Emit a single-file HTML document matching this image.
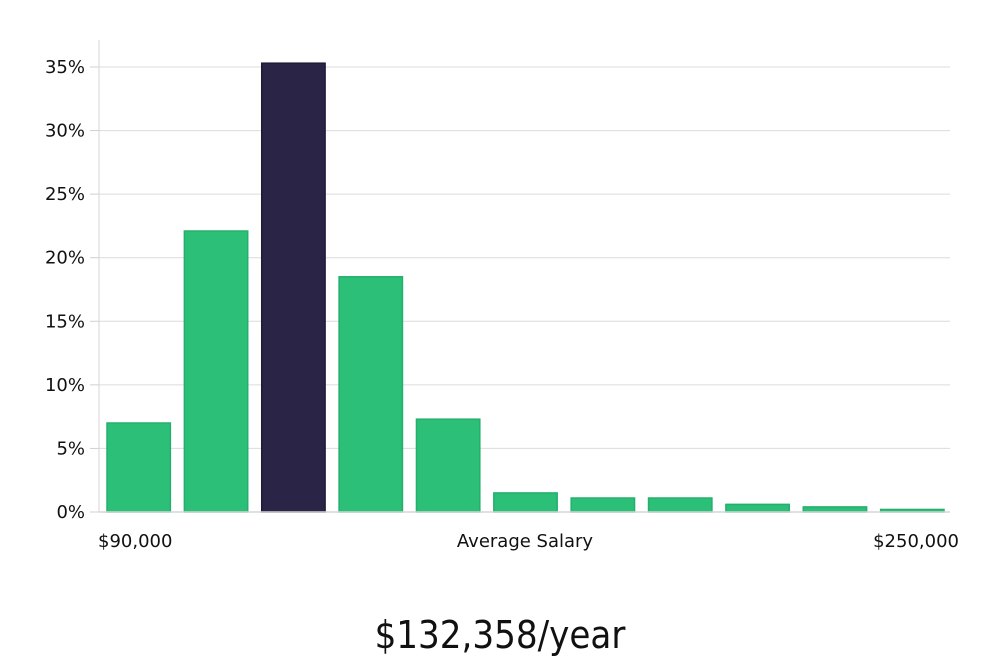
<!DOCTYPE html>
<html><head><meta charset="utf-8"><style>
html,body{margin:0;padding:0;background:#fff;width:1000px;height:660px;overflow:hidden}
svg{display:block;font-family:"DejaVu Sans","Liberation Sans",sans-serif}
</style></head><body>
<svg id="chart" width="1000" height="660">
<g id="grid"></g>
<g id="bars"></g>
<g id="yticks"></g>
<line x1="99" y1="40" x2="99" y2="512" stroke="#d6d6d6" stroke-width="1"/>
<line x1="99" y1="512" x2="950" y2="512" stroke="#d6d6d6" stroke-width="1.5"/>
<text x="98" y="547" font-size="18" fill="#111">$90,000</text>
<text x="525" y="547" font-size="18" fill="#111" text-anchor="middle">Average Salary</text>
<text x="959" y="547" font-size="18" fill="#111" text-anchor="end">$250,000</text>
<text x="500" y="648" font-size="38" fill="#111" text-anchor="middle" font-family="'DejaVu Sans Condensed','Liberation Sans Narrow',sans-serif" font-weight="300">$132,358/year</text>
</svg>
<script>
const categories=["b1","b2","b3","b4","b5","b6","b7","b8","b9","b10","b11"];
const values=[7.0,22.1,35.3,18.5,7.3,1.5,1.1,1.1,0.6,0.4,0.2];
const highlightIndex=2;
const yTicks=[0,5,10,15,20,25,30,35];
const yTickLabels=["0%","5%","10%","15%","20%","25%","30%","35%"];
const NS="http://www.w3.org/2000/svg";
const x0=99,x1=950,y0=512,pxPerUnit=(512-67)/35;
function y(v){return y0-v*pxPerUnit;}
const band=(x1-x0)/categories.length;
function xb(i){return x0+i*band+8;}
const bw=band-14;
const grid=document.getElementById('grid'),ty=document.getElementById('yticks'),bars=document.getElementById('bars');
yTicks.forEach((t,i)=>{
  if(t>0){const l=document.createElementNS(NS,'line');
  l.setAttribute('x1',x0);l.setAttribute('x2',x1);l.setAttribute('y1',y(t));l.setAttribute('y2',y(t));
  l.setAttribute('stroke','#dcdcdc');l.setAttribute('stroke-width','1');
  
  
  grid.appendChild(l);}
  const tk=document.createElementNS(NS,'line');
  tk.setAttribute('x1',90);tk.setAttribute('x2',x0);tk.setAttribute('y1',y(t));tk.setAttribute('y2',y(t));
  tk.setAttribute('stroke','#d0d0d0');
  
  
  ty.appendChild(tk);
  const tx=document.createElementNS(NS,'text');
  tx.setAttribute('x',85);tx.setAttribute('y',y(t)+6);tx.setAttribute('text-anchor','end');
  tx.setAttribute('font-size','18');tx.setAttribute('fill','#111');
  tx.textContent=yTickLabels[i];
  
  
  ty.appendChild(tx);
});
values.forEach((v,i)=>{
  const r=document.createElementNS(NS,'rect');
  r.setAttribute('x',xb(i));r.setAttribute('y',y(v));r.setAttribute('width',bw);r.setAttribute('height',y0-y(v));
  const hl=i===highlightIndex;
  r.setAttribute('fill',hl?'#2a2547':'#2bbf78');
  r.setAttribute('stroke',hl?'#1d1a3a':'#24b06c');r.setAttribute('stroke-width','1.5');
  
  
  bars.appendChild(r);
});
</script>
</body></html>
